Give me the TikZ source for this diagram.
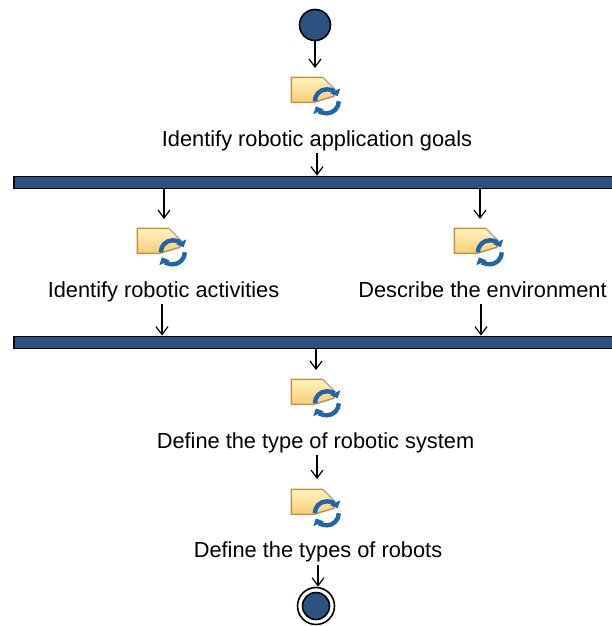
\documentclass[tikz,border=0pt]{standalone}
\usepackage{fontspec}
\setmainfont{Liberation Sans}
\usepackage{xcolor}
\usetikzlibrary{calc}
\usetikzlibrary{arrows.meta}
\definecolor{barblue}{RGB}{44,83,128}
\definecolor{iconedge}{RGB}{190,145,70}
\definecolor{iconlight}{RGB}{255,244,190}
\definecolor{icondark}{RGB}{247,205,120}
\definecolor{cycleblue}{RGB}{32,100,170}
\tikzset{
	flow/.style={draw,line width=1.2pt,-{Straight Barb[length=8pt,width=12pt,line width=1.2pt]}},
	bar/.style={draw=black,line width=1.8pt,fill=barblue,minimum width=611pt,minimum height=12pt,inner sep=0pt},
	steplabel/.style={font=\fontsize{21.8}{26}\selectfont,inner sep=0pt,anchor=base},
	iconbox/.style={minimum width=52pt,minimum height=36pt,inner sep=0pt}
}
\newcommand{\acticon}[1]{%
	\draw [iconedge,line width=1.4pt,top color=iconlight,bottom color=icondark]
		($(#1.north west)+(0.5,0.5)$) -- ++(31.5,0) -- ++(11,11) -- ++(0,8) -- ++(-20,6) -- ++(-22.5,0) -- cycle;
	\draw [gray!60,line width=1.2pt] ($(#1.north west)+(32,0.5)$) -- ++(12,12);
	\draw [cycleblue,line width=4.4pt,-{Triangle[length=6pt,width=11pt]}]
		($(#1.north west)+(24,24.5)$) arc (180:335:12);
	\draw [cycleblue,line width=4.4pt,-{Triangle[length=6pt,width=11pt]}]
		($(#1.north west)+(48,24.5)$) arc (0:155:12);
}
\begin{document}
\begin{tikzpicture}[x=1pt,y=-1pt]
	\useasboundingbox (0,0) rectangle (612,626);
	% start and end
	\node (start) at (315,25) [circle,draw,line width=1.6pt,fill=barblue,minimum size=31pt,inner sep=0pt] {};
	\node (stop) at (316,606) [circle,draw,line width=1.6pt,fill=barblue,minimum size=27pt,inner sep=0pt] {};
	\node (stopring) at (316,606) [circle,draw,line width=1.6pt,minimum size=37pt,inner sep=0pt] {};
	% fork and join
	\node (forkbar) at (319.5,182.5) [bar] {};
	\node (joinbar) at (319.5,342.5) [bar] {};
	% icons
	\node (goalsicon) at (317,95) [iconbox] {};
	\node (activicon) at (163,246) [iconbox] {};
	\node (enviricon) at (480,246) [iconbox] {};
	\node (systemicon) at (317,397) [iconbox] {};
	\node (robotsicon) at (317,507) [iconbox] {};
	\acticon{goalsicon}
	\acticon{activicon}
	\acticon{enviricon}
	\acticon{systemicon}
	\acticon{robotsicon}
	% labels
	\node (goals) at (317,146) [steplabel] {Identify robotic application goals};
	\node (activ) at (163.5,297) [steplabel] {Identify robotic activities};
	\node (envir) at (482.5,297) [steplabel] {Describe the environment};
	\node (system) at (315.5,448) [steplabel] {Define the type of robotic system};
	\node (robots) at (318,557) [steplabel] {Define the types of robots};
	% arrow ends
	\coordinate (startend) at (315,68);
	\coordinate (goalsout) at (317,153);
	\coordinate (forkl) at (164,189);
	\coordinate (forkr) at (480,189);
	\coordinate (activin) at (164,219);
	\coordinate (envirin) at (480,219);
	\coordinate (activout) at (162,304);
	\coordinate (envirout) at (481,304);
	\coordinate (joinout) at (316,349);
	\coordinate (systemin) at (316,370);
	\coordinate (systemout) at (317,455);
	\coordinate (robotsin) at (317,479);
	\coordinate (robotsout) at (318,565);
	% arrows
	\draw [flow] (start) -- (startend);
	\draw [flow] (goalsout) -- (forkbar.north -| goalsout);
	\draw [flow] (forkl) -- (activin);
	\draw [flow] (forkr) -- (envirin);
	\draw [flow] (activout) -- (joinbar.north -| activout);
	\draw [flow] (envirout) -- (joinbar.north -| envirout);
	\draw [flow] (joinout) -- (systemin);
	\draw [flow] (systemout) -- (robotsin);
	\draw [flow] (robotsout) -- (stopring.north -| robotsout);
\end{tikzpicture}
\end{document}
